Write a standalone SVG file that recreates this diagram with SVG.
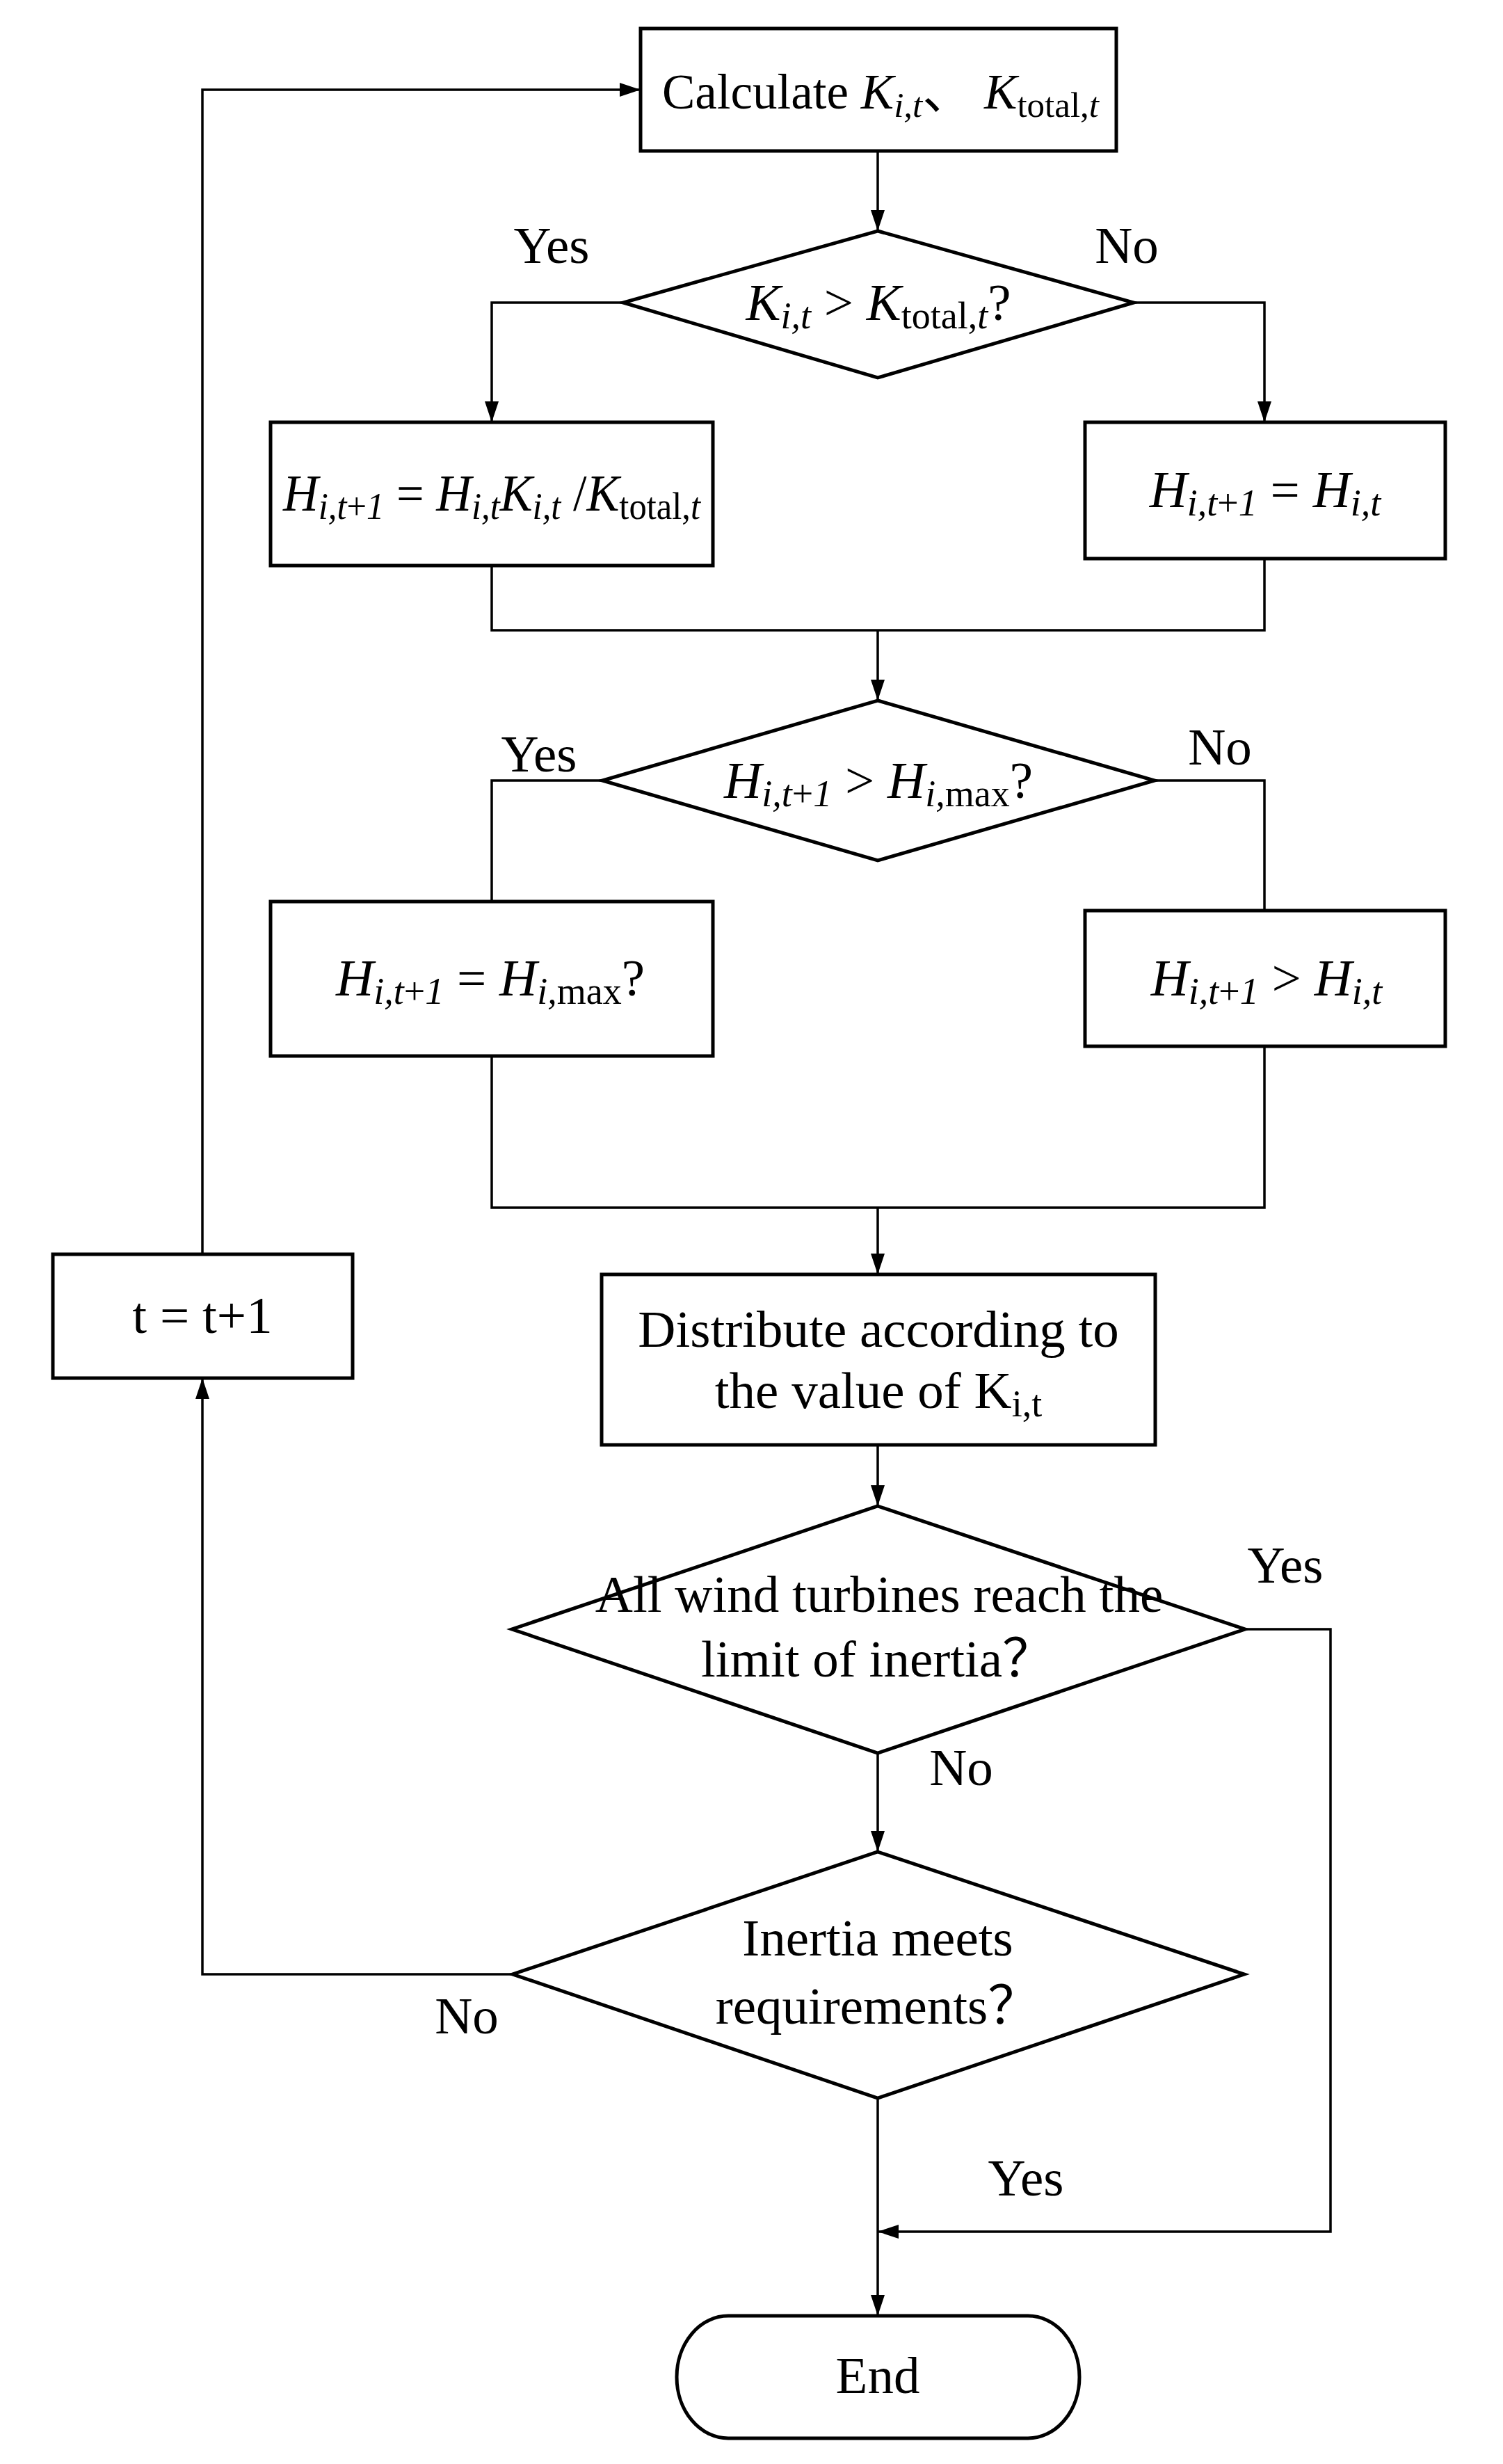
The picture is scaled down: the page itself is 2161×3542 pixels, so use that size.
<svg xmlns="http://www.w3.org/2000/svg" width="2161" height="3542" viewBox="0 0 2161 3542">
<style>
.shape{fill:#fff;stroke:#000;stroke-width:5}
.conn{fill:none;stroke:#000;stroke-width:3.5}
text{font-family:"Liberation Serif","Times New Roman","Noto Sans CJK SC",serif;font-size:75px;fill:#000;text-anchor:middle}
.i{font-style:italic}
.s{font-size:54px}
.c{font-size:71px}
.c .s{font-size:51px}
</style>
<defs>
<marker id="ah" markerUnits="userSpaceOnUse" markerWidth="30" markerHeight="20" refX="30" refY="10" orient="auto">
<path d="M0,0 L30,10 L0,20 z" fill="#000"/>
</marker>
</defs>
<rect width="2161" height="3542" fill="#fff"/>
<g id="connectors">
<path class="conn" d="M291,1803 V129 H921" marker-end="url(#ah)"/>
<path class="conn" d="M1262,217 V332" marker-end="url(#ah)"/>
<path class="conn" d="M896,435 H707 V607" marker-end="url(#ah)"/>
<path class="conn" d="M1630,435 H1818 V607" marker-end="url(#ah)"/>
<path class="conn" d="M707,813 V906 H1818 V803"/>
<path class="conn" d="M1262,906 V1007" marker-end="url(#ah)"/>
<path class="conn" d="M866,1122 H707 V1296"/>
<path class="conn" d="M1660,1122 H1818 V1309"/>
<path class="conn" d="M707,1518 V1736 H1818 V1504"/>
<path class="conn" d="M1262,1736 V1832" marker-end="url(#ah)"/>
<path class="conn" d="M1262,2077 V2165" marker-end="url(#ah)"/>
<path class="conn" d="M1262,2520 V2662" marker-end="url(#ah)"/>
<path class="conn" d="M1790,2342 H1913 V3208 H1262" marker-end="url(#ah)"/>
<path class="conn" d="M1262,3016 V3329" marker-end="url(#ah)"/>
<path class="conn" d="M737,2838 H291 V1981" marker-end="url(#ah)"/>
</g>
<g id="labels">
<text x="793" y="378">Yes</text>
<text x="1620" y="378">No</text>
<text x="775" y="1109">Yes</text>
<text x="1754" y="1099">No</text>
<text x="1848" y="2275">Yes</text>
<text x="1382" y="2566">No</text>
<text x="671" y="2923">No</text>
<text x="1475" y="3156">Yes</text>
</g>
<g id="n-calc">
<rect class="shape" x="921" y="41" width="684" height="176"/>
<text class="c" x="1266" y="156">Calculate <tspan class="i">K</tspan><tspan class="s i" dy="12">i,t</tspan><tspan dy="-12">、 </tspan><tspan class="i">K</tspan><tspan class="s" dy="12">total,</tspan><tspan class="s i">t</tspan></text>
</g>
<g id="n-dec1">
<polygon class="shape" points="1262,332 1630,435 1262,543 896,435"/>
<text x="1263" y="460"><tspan class="i">K</tspan><tspan class="s i" dy="12">i,t</tspan><tspan dy="-12"> &gt; </tspan><tspan class="i">K</tspan><tspan class="s" dy="12">total,</tspan><tspan class="s i">t</tspan><tspan dy="-12">?</tspan></text>
</g>
<g id="n-box1l">
<rect class="shape" x="389" y="607" width="636" height="206"/>
<text x="707" y="734" textLength="600" lengthAdjust="spacingAndGlyphs"><tspan class="i">H</tspan><tspan class="s i" dy="12">i,t</tspan><tspan class="s" >+</tspan><tspan class="s i">1</tspan><tspan dy="-12"> = </tspan><tspan class="i">H</tspan><tspan class="s i" dy="12">i,t</tspan><tspan class="i" dy="-12">K</tspan><tspan class="s i" dy="12">i,t</tspan><tspan dy="-12"> /</tspan><tspan class="i">K</tspan><tspan class="s" dy="12">total,</tspan><tspan class="s i">t</tspan></text>
</g>
<g id="n-box1r">
<rect class="shape" x="1560" y="607" width="518" height="196"/>
<text x="1819" y="729"><tspan class="i">H</tspan><tspan class="s i" dy="12">i,t</tspan><tspan class="s">+</tspan><tspan class="s i">1</tspan><tspan dy="-12"> = </tspan><tspan class="i">H</tspan><tspan class="s i" dy="12">i,t</tspan></text>
</g>
<g id="n-dec2">
<polygon class="shape" points="1262,1007 1660,1122 1262,1237 866,1122"/>
<text x="1263" y="1147"><tspan class="i">H</tspan><tspan class="s i" dy="12">i,t</tspan><tspan class="s">+</tspan><tspan class="s i">1</tspan><tspan dy="-12"> &gt; </tspan><tspan class="i">H</tspan><tspan class="s i" dy="12">i,</tspan><tspan class="s">max</tspan><tspan dy="-12">?</tspan></text>
</g>
<g id="n-box2l">
<rect class="shape" x="389" y="1296" width="636" height="222"/>
<text x="705" y="1431"><tspan class="i">H</tspan><tspan class="s i" dy="12">i,t</tspan><tspan class="s">+</tspan><tspan class="s i">1</tspan><tspan dy="-12"> = </tspan><tspan class="i">H</tspan><tspan class="s i" dy="12">i,</tspan><tspan class="s">max</tspan><tspan dy="-12">?</tspan></text>
</g>
<g id="n-box2r">
<rect class="shape" x="1560" y="1309" width="518" height="195"/>
<text x="1821" y="1431"><tspan class="i">H</tspan><tspan class="s i" dy="12">i,t</tspan><tspan class="s">+</tspan><tspan class="s i">1</tspan><tspan dy="-12"> &gt; </tspan><tspan class="i">H</tspan><tspan class="s i" dy="12">i,t</tspan></text>
</g>
<g id="n-dist">
<rect class="shape" x="865" y="1832" width="796" height="245"/>
<text x="1263" y="1936">Distribute according to</text>
<text x="1263" y="2024">the value of K<tspan class="s" dy="12">i,t</tspan></text>
</g>
<g id="n-inc">
<rect class="shape" x="76" y="1803" width="431" height="178"/>
<text x="291" y="1916">t = t+1</text>
</g>
<g id="n-dec3">
<polygon class="shape" points="1262,2165 1790,2342 1262,2520 736,2342"/>
<text x="1264" y="2317">All wind turbines reach the</text>
<text x="1262" y="2410">limit of inertia？</text>
</g>
<g id="n-dec4">
<polygon class="shape" points="1262,2662 1789,2838 1262,3016 737,2838"/>
<text x="1262" y="2811">Inertia meets</text>
<text x="1262" y="2909">requirements？</text>
</g>
<g id="n-end">
<rect class="shape" x="973" y="3329" width="579" height="176" rx="74" ry="88"/>
<text x="1262" y="3440">End</text>
</g>
</svg>
